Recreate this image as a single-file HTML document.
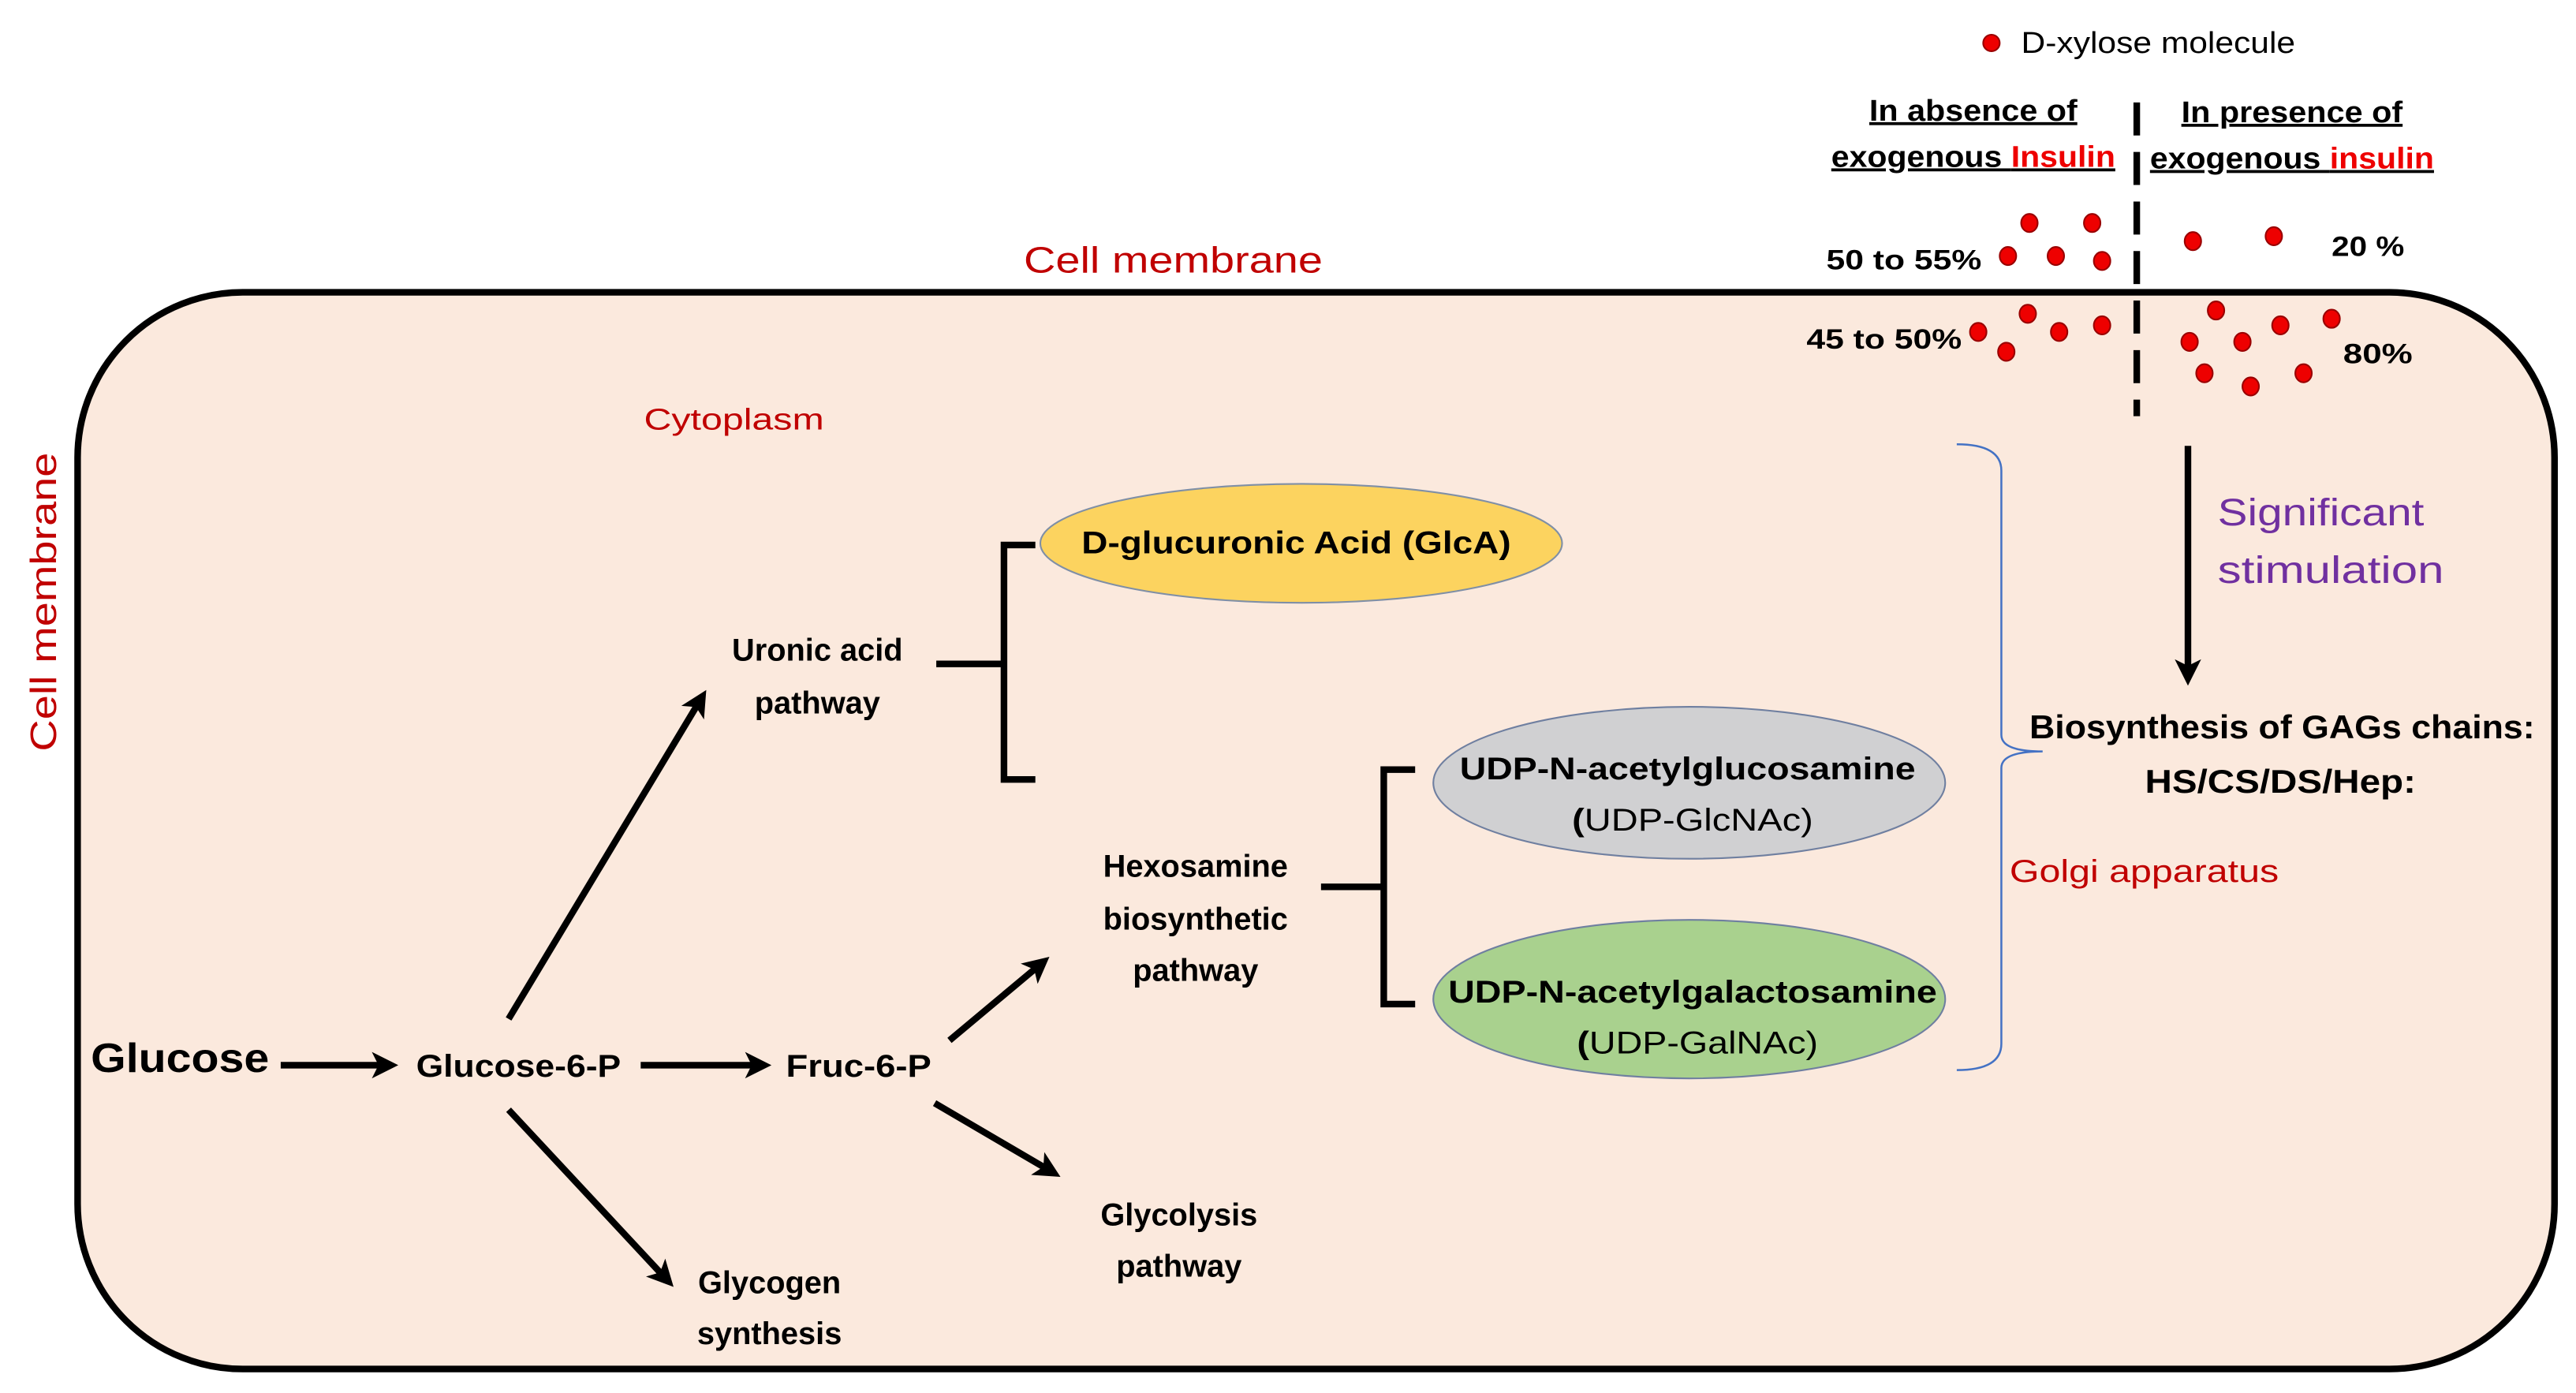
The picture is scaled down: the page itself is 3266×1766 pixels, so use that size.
<!DOCTYPE html>
<html><head><meta charset="utf-8"><style>
html,body{margin:0;padding:0;background:#fff;}
svg{display:block;}
text{font-family:"Liberation Sans",sans-serif;}
.b{font-weight:bold;}
</style></head><body>
<svg width="3266" height="1766" viewBox="0 0 1560 843.5" xmlns="http://www.w3.org/2000/svg">
<defs>
<marker id="ah" markerWidth="4" markerHeight="4" refX="2.2" refY="2" orient="auto" markerUnits="strokeWidth">
<path d="M0,0 L4,2 L0,4 L1,2 Z" fill="#000"/>
</marker>
</defs>
<rect x="47" y="177" width="1500" height="652" rx="100" ry="100" fill="#fbe9dd" stroke="#000" stroke-width="4"/>

<!-- legend -->
<circle cx="1206" cy="26" r="5" fill="#e00" stroke="#900" stroke-width="1"/>
<text x="1224" y="32" font-size="18" textLength="166" lengthAdjust="spacingAndGlyphs">D-xylose molecule</text>

<text class="b" x="1195" y="73" font-size="18" text-anchor="middle" text-decoration="underline" textLength="126" lengthAdjust="spacingAndGlyphs">In absence of</text>
<text class="b" x="1195" y="101" font-size="18" text-anchor="middle" text-decoration="underline" textLength="172" lengthAdjust="spacingAndGlyphs">exogenous <tspan fill="#e00">Insulin</tspan></text>
<text class="b" x="1388" y="74" font-size="18" text-anchor="middle" text-decoration="underline" textLength="134" lengthAdjust="spacingAndGlyphs">In presence of</text>
<text class="b" x="1388" y="102" font-size="18" text-anchor="middle" text-decoration="underline" textLength="172" lengthAdjust="spacingAndGlyphs">exogenous <tspan fill="#e00">insulin</tspan></text>

<line x1="1294" y1="62" x2="1294" y2="252" stroke="#000" stroke-width="4" stroke-dasharray="20,10"/>

<text class="b" x="1200" y="163" font-size="17" text-anchor="end" textLength="94" lengthAdjust="spacingAndGlyphs">50 to 55%</text>
<text class="b" x="1188" y="211" font-size="17" text-anchor="end" textLength="94" lengthAdjust="spacingAndGlyphs">45 to 50%</text>
<text class="b" x="1412" y="155" font-size="17" textLength="44" lengthAdjust="spacingAndGlyphs">20 %</text>
<text class="b" x="1419" y="220" font-size="17" textLength="42" lengthAdjust="spacingAndGlyphs">80%</text>

<g fill="#e00" stroke="#900" stroke-width="1">
<ellipse cx="1229" cy="135" rx="5" ry="5.5"/><ellipse cx="1267" cy="135" rx="5" ry="5.5"/>
<ellipse cx="1216" cy="155" rx="5" ry="5.5"/><ellipse cx="1245" cy="155" rx="5" ry="5.5"/><ellipse cx="1273" cy="158" rx="5" ry="5.5"/>
<ellipse cx="1328" cy="146" rx="5" ry="5.5"/><ellipse cx="1377" cy="143" rx="5" ry="5.5"/>
<ellipse cx="1198" cy="201" rx="5" ry="5.5"/><ellipse cx="1228" cy="190" rx="5" ry="5.5"/><ellipse cx="1247" cy="201" rx="5" ry="5.5"/><ellipse cx="1273" cy="197" rx="5" ry="5.5"/><ellipse cx="1215" cy="213" rx="5" ry="5.5"/>
<ellipse cx="1342" cy="188" rx="5" ry="5.5"/><ellipse cx="1381" cy="197" rx="5" ry="5.5"/><ellipse cx="1412" cy="193" rx="5" ry="5.5"/>
<ellipse cx="1326" cy="207" rx="5" ry="5.5"/><ellipse cx="1358" cy="207" rx="5" ry="5.5"/>
<ellipse cx="1335" cy="226" rx="5" ry="5.5"/><ellipse cx="1363" cy="234" rx="5" ry="5.5"/><ellipse cx="1395" cy="226" rx="5" ry="5.5"/>
</g>

<!-- labels red -->
<text x="620" y="165" font-size="22" fill="#c00000" textLength="181" lengthAdjust="spacingAndGlyphs">Cell membrane</text>
<text x="0" y="0" font-size="22" fill="#c00000" transform="translate(34,455) rotate(-90)" textLength="181" lengthAdjust="spacingAndGlyphs">Cell membrane</text>
<text x="390" y="260" font-size="18" fill="#c00000" textLength="109" lengthAdjust="spacingAndGlyphs">Cytoplasm</text>
<text x="1217" y="534" font-size="19" fill="#c00000" textLength="163" lengthAdjust="spacingAndGlyphs">Golgi apparatus</text>

<!-- ellipses -->
<ellipse cx="788" cy="329" rx="158" ry="36" fill="#fcd35f" stroke="#7f8fa6" stroke-width="1"/>
<text class="b" x="785" y="335" font-size="19" text-anchor="middle" textLength="260" lengthAdjust="spacingAndGlyphs">D-glucuronic  Acid (GlcA)</text>
<ellipse cx="1023" cy="474" rx="155" ry="46" fill="#d0d0d2" stroke="#6f7fa0" stroke-width="1"/>
<text class="b" x="1022" y="472" font-size="19" text-anchor="middle" textLength="276" lengthAdjust="spacingAndGlyphs">UDP-N-acetylglucosamine</text>
<text x="1025" y="503" font-size="19" text-anchor="middle" textLength="146" lengthAdjust="spacingAndGlyphs"><tspan font-weight="bold">(</tspan>UDP-GlcNAc)</text>
<ellipse cx="1023" cy="605" rx="155" ry="48" fill="#a9d18e" stroke="#6f7fa0" stroke-width="1"/>
<text class="b" x="1025" y="607" font-size="19" text-anchor="middle" textLength="296" lengthAdjust="spacingAndGlyphs">UDP-N-acetylgalactosamine</text>
<text x="1028" y="638" font-size="19" text-anchor="middle" textLength="146" lengthAdjust="spacingAndGlyphs"><tspan font-weight="bold">(</tspan>UDP-GalNAc)</text>

<!-- brackets -->
<g stroke="#000" stroke-width="4" fill="none">
<path d="M627,330 H608 V472 H627"/>
<path d="M567,402 H608"/>
<path d="M857,466 H838 V608 H857"/>
<path d="M800,537 H838"/>
</g>
<path d="M1185,269 Q1212,269 1212,285 V445 Q1212,455 1237,455 Q1212,455 1212,465 V632 Q1212,648 1185,648" stroke="#4472c4" stroke-width="1.2" fill="none"/>

<!-- pathway text -->
<g class="b" font-size="19" text-anchor="middle">
<text x="495" y="400" class="b">Uronic acid</text>
<text x="495" y="432" class="b">pathway</text>
<text x="724" y="531" class="b">Hexosamine</text>
<text x="724" y="563" class="b">biosynthetic</text>
<text x="724" y="594" class="b">pathway</text>
<text x="466" y="783" class="b">Glycogen</text>
<text x="466" y="814" class="b">synthesis</text>
<text x="714" y="742" class="b">Glycolysis</text>
<text x="714" y="773" class="b">pathway</text>
</g>
<text class="b" x="55" y="649" font-size="25" textLength="108" lengthAdjust="spacingAndGlyphs">Glucose</text>
<text class="b" x="252" y="652" font-size="19" textLength="124" lengthAdjust="spacingAndGlyphs">Glucose-6-P</text>
<text class="b" x="476" y="652" font-size="19" textLength="88" lengthAdjust="spacingAndGlyphs">Fruc-6-P</text>

<!-- arrows -->
<g stroke="#000" stroke-width="4" marker-end="url(#ah)">
<line x1="170" y1="645" x2="234" y2="645"/>
<line x1="388" y1="645" x2="460" y2="645"/>
<line x1="308" y1="617" x2="424" y2="424"/>
<line x1="308" y1="672" x2="403" y2="774"/>
<line x1="575" y1="630" x2="630" y2="584"/>
<line x1="566" y1="668" x2="636" y2="709"/>
<line x1="1325" y1="270" x2="1325" y2="408"/>
</g>

<text x="1343" y="318" font-size="23" fill="#7030a0" textLength="125" lengthAdjust="spacingAndGlyphs">Significant</text>
<text x="1343" y="353" font-size="23" fill="#7030a0" textLength="137" lengthAdjust="spacingAndGlyphs">stimulation</text>
<text class="b" x="1229" y="447" font-size="20" textLength="306" lengthAdjust="spacingAndGlyphs">Biosynthesis  of GAGs chains:</text>
<text class="b" x="1381" y="480" font-size="20" text-anchor="middle" textLength="164" lengthAdjust="spacingAndGlyphs">HS/CS/DS/Hep:</text>
</svg>
</body></html>
